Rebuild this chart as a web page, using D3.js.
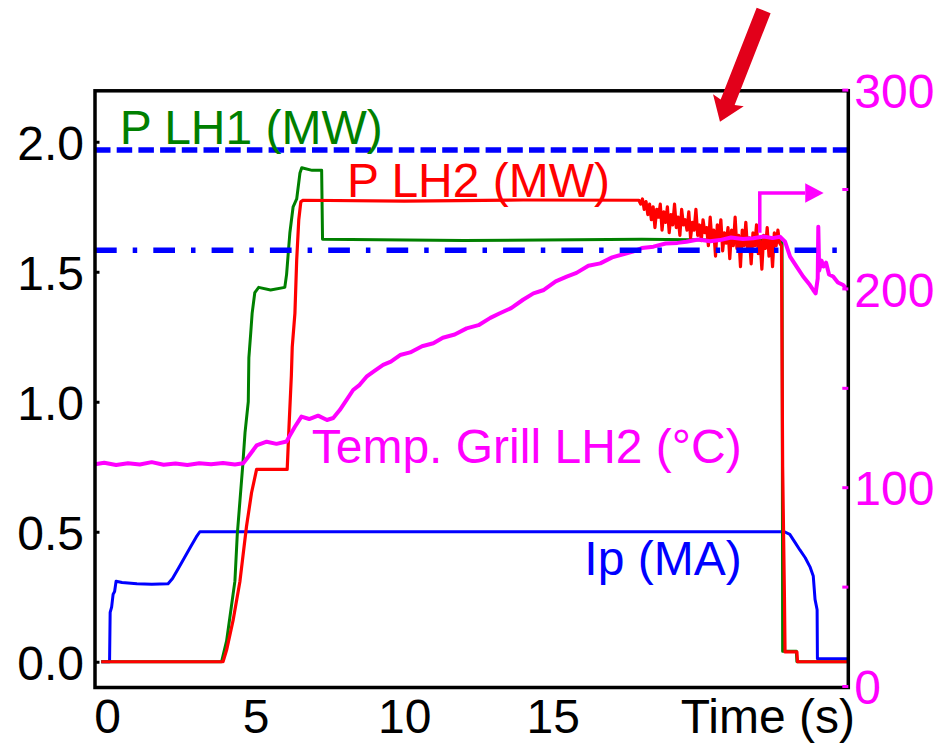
<!DOCTYPE html>
<html>
<head>
<meta charset="utf-8">
<script src="https://cdn.jsdelivr.net/npm/d3@7"></script>
<style>
  body { margin: 0; background: #fff; }
  svg { display: block; font-family: "Liberation Sans", Arial, sans-serif; }
</style>
</head>
<body>
<div id="chart"></div>
<script>

// ---- data (time in s) ----
var ipPoints = [[-0.2,0],[0.08,0],[0.1,0.19],[0.15,0.21],[0.2,0.26],[0.25,0.27],[0.3,0.31],[0.5,0.305],
  [1.0,0.30],[1.5,0.298],[2.05,0.30],[2.2,0.32],[2.4,0.36],[2.6,0.40],[2.8,0.44],[3.0,0.48],[3.12,0.5],
  [8,0.5],[14,0.5],[20,0.5],[22.8,0.5],[22.98,0.49],[23.15,0.46],[23.32,0.43],[23.5,0.40],[23.66,0.365],
  [23.77,0.33],[23.83,0.24],[23.9,0.2],[23.91,0.012],[24.95,0.012]];

var lh1Points = [[-0.2,0],[3.85,0],[4.02,0.08],[4.3,0.31],[4.38,0.49],[4.47,0.62],[4.56,0.75],[4.64,0.88],
  [4.75,1.0],[4.77,1.17],[4.83,1.26],[4.88,1.34],[4.97,1.42],[5.1,1.44],[5.5,1.43],[5.98,1.44],[6.04,1.49],
  [6.15,1.65],[6.26,1.75],[6.38,1.78],[6.49,1.88],[6.55,1.90],[6.9,1.89],[7.22,1.89],[7.25,1.625],
  [12,1.62],[18,1.625],[22.72,1.62],[22.74,0.04],[23.2,0.04],[23.22,0],[24.95,0]];

var lh2Points = [[-0.2,0],[3.9,0],[4.02,0.045],[4.24,0.16],[4.47,0.31],[4.69,0.52],[4.86,0.65],[5.03,0.74],
  [5.5,0.74],[6.06,0.74],[6.12,0.9],[6.2,1.1],[6.23,1.21],[6.32,1.34],[6.38,1.545],[6.45,1.70],[6.52,1.77],
  [6.6,1.775],[10,1.772],[14,1.776],[17.9,1.775],
  [17.96,1.76],[18.02,1.78],[18.08,1.74],[18.14,1.77],[18.20,1.72],[18.26,1.76],[18.32,1.70],[18.38,1.75],
  [18.44,1.67],[18.50,1.74],[18.56,1.71],[18.62,1.76],[18.68,1.66],[18.74,1.73],[18.80,1.69],[18.86,1.75],
  [18.92,1.65],[18.98,1.72],[19.04,1.68],[19.10,1.76],[19.16,1.67],[19.22,1.71],[19.28,1.64],[19.34,1.74],
  [19.40,1.68],[19.46,1.70],[19.52,1.66],[19.58,1.73],[19.64,1.63],[19.70,1.69],[19.76,1.66],[19.82,1.74],
  [19.88,1.64],[19.94,1.68],[20.00,1.62],[20.06,1.70],[20.12,1.65],[20.18,1.67],[20.24,1.60],[20.30,1.71],
  [20.36,1.62],[20.42,1.66],[20.48,1.56],[20.54,1.68],[20.60,1.63],[20.66,1.70],[20.72,1.58],[20.78,1.65],
  [20.84,1.61],[20.90,1.67],[20.96,1.55],[21.02,1.66],[21.08,1.60],[21.14,1.71],[21.20,1.59],[21.26,1.64],
  [21.32,1.52],[21.38,1.66],[21.44,1.60],[21.50,1.69],[21.56,1.58],[21.62,1.63],[21.68,1.53],[21.74,1.65],
  [21.80,1.60],[21.86,1.68],[21.92,1.57],[21.98,1.62],[22.04,1.51],[22.10,1.64],[22.16,1.59],[22.22,1.67],
  [22.28,1.56],[22.34,1.63],[22.40,1.52],[22.46,1.65],[22.52,1.60],[22.58,1.66],[22.64,1.61],[22.70,1.60],
  [22.74,0.75],[22.80,0.25],[22.82,0.038],[23.22,0.038],[23.24,0],[24.95,0]];

var tempPoints = [[-0.41,111.6],[-0.1,112.3],[0.3,111.2],[0.7,112.0],[1.1,111.4],[1.5,112.6],[1.9,111.3],
  [2.3,111.9],[2.7,111.2],[3.1,112.1],[3.5,111.5],[3.9,112.2],[4.3,111.4],[4.58,112.0],[4.75,115.3],
  [5.03,121],[5.37,122.9],[5.7,121.8],[6.04,123],[6.15,126],[6.32,130.4],[6.54,135.5],[6.8,134.3],
  [7.1,136],[7.4,133.8],[7.61,134.8],[7.83,138.8],[8.06,143.9],[8.28,148.9],[8.5,151.5],[8.73,155.6],
  [9.0,158.5],[9.29,161.5],[9.55,163.2],[9.86,166.5],[10.2,167.8],[10.6,170.9],[10.98,172.4],[11.3,175.2],
  [11.7,176.8],[12.1,179.9],[12.5,181.5],[12.9,185.2],[13.22,187.5],[13.6,190.1],[14.0,194.3],[14.35,197.5],
  [14.7,199.2],[15.1,203.5],[15.47,205.9],[15.8,207.8],[16.2,211.4],[16.6,212.6],[17.0,215.6],[17.4,217.3],
  [17.7,218.5],[18.0,220.3],[18.39,221],[18.8,222.6],[19.2,222.9],[19.5,223.5],[19.9,224.6],[20.3,223.7],
  [20.63,224.3],[21.0,225.6],[21.4,224.8],[21.75,225.2],[22.1,226.1],[22.4,225.3],[22.65,226],[22.82,223.5],
  [22.99,216],[23.21,211],[23.43,206],[23.66,201.7],[23.77,199.2],[23.85,197.5],[23.92,205],[23.94,231],
  [23.97,209],[24.05,214],[24.11,211],[24.2,213],[24.3,207],[24.44,206],[24.6,203],[24.78,201.7],[24.95,199]];

// reference levels (MW) and annotations
var dashedLevel = 1.968;
var dashDotLevel = 1.583;
var tempArrowPath = [[21.97,228],[21.97,248],[23.5,248]];
var tempArrowTip = [24.12, 248];
var redArrow = { tail: [22.1, 2.505], tip: [20.63, 2.077] };

var leftTicks = [0, 0.5, 1.0, 1.5, 2.0];
var rightTicks = [0, 50, 100, 150, 200, 250, 300];
var rightLabels = [0, 100, 200, 300];
var timeTicks = [0, 5, 10, 15];

var seriesLabels = [
  { text: "P LH1 (MW)", color: "#008000", t: 0.42, v: 1.99, anchor: "start" },
  { text: "P LH2 (MW)", color: "#ff0000", t: 8.07, v: 1.787, anchor: "start" },
  { text: "Temp. Grill LH2 (\u00B0C)", color: "#ff00ff", t: 21.36, v: 0.763, anchor: "end" },
  { text: "Ip (MA)", color: "#0000ff", t: 21.36, v: 0.333, anchor: "end" }
];

// ---- layout ----
var W = 937, H = 744;
var plotLeft = 95, plotRight = 848.3, plotTop = 90.8, plotBottom = 687.5;
var fontSize = 48;

var svg = d3.select("#chart").append("svg")
    .attr("width", W)
    .attr("height", H);

var x = d3.scaleLinear().domain([-0.41, 24.95]).range([plotLeft, plotRight]);
var yL = d3.scaleLinear().domain([-0.099, 2.196]).range([plotBottom, plotTop]);
var yR = d3.scaleLinear().domain([-0.75, 299.4]).range([plotBottom, plotTop]);

var lineL = d3.line()
    .x(function(d) { return x(d[0]); })
    .y(function(d) { return yL(d[1]); });
var lineR = d3.line()
    .x(function(d) { return x(d[0]); })
    .y(function(d) { return yR(d[1]); });

// ---- data lines ----
svg.append("path").datum(ipPoints)
    .attr("d", lineL).attr("fill", "none")
    .attr("stroke", "#0000ff").attr("stroke-width", 3).attr("stroke-linejoin", "round");

svg.append("path").datum(lh1Points)
    .attr("d", lineL).attr("fill", "none")
    .attr("stroke", "#008000").attr("stroke-width", 3).attr("stroke-linejoin", "round");

svg.append("path").datum(lh2Points)
    .attr("d", lineL).attr("fill", "none")
    .attr("stroke", "#ff0000").attr("stroke-width", 3.2).attr("stroke-linejoin", "round");

svg.append("path").datum(tempPoints)
    .attr("d", lineR).attr("fill", "none")
    .attr("stroke", "#ff00ff").attr("stroke-width", 4).attr("stroke-linejoin", "round");

// ---- reference lines ----
svg.append("line")
    .attr("x1", x(-0.41)).attr("x2", x(24.95))
    .attr("y1", yL(dashedLevel)).attr("y2", yL(dashedLevel))
    .attr("stroke", "#0000ff").attr("stroke-width", 5.5)
    .attr("stroke-dasharray", "15.5,6.2");

svg.append("line")
    .attr("x1", x(-0.41)).attr("x2", x(24.95))
    .attr("y1", yL(dashDotLevel)).attr("y2", yL(dashDotLevel))
    .attr("stroke", "#0000ff").attr("stroke-width", 5.5)
    .attr("stroke-dasharray", "21.7,16,4.5,16.1");

// ---- temperature axis arrow ----
svg.append("path").datum(tempArrowPath)
    .attr("d", lineR).attr("fill", "none")
    .attr("stroke", "#ff00ff").attr("stroke-width", 3.5);

var hx = x(tempArrowPath[2][0]), hy = yR(tempArrowPath[2][1]);
svg.append("path")
    .attr("d", "M" + hx + "," + (hy - 9.7) + "L" + x(tempArrowTip[0]) + "," + yR(tempArrowTip[1]) +
               "L" + hx + "," + (hy + 9.7) + "Z")
    .attr("fill", "#ff00ff");

// ---- frame ----
svg.append("rect")
    .attr("x", plotLeft).attr("y", plotTop)
    .attr("width", plotRight - plotLeft).attr("height", plotBottom - plotTop)
    .attr("fill", "none").attr("stroke", "#000").attr("stroke-width", 3.5);

// ---- axes ----
var gL = svg.append("g")
    .attr("transform", "translate(" + plotLeft + ",0)")
    .call(d3.axisLeft(yL).tickValues(leftTicks).tickSize(-4.5).tickPadding(11)
      .tickFormat(d3.format(".1f")));
gL.select(".domain").remove();
gL.selectAll(".tick line").attr("stroke", "#000").attr("stroke-width", 3);
gL.selectAll(".tick text").attr("dy", "0.37em");

var gR = svg.append("g")
    .attr("transform", "translate(" + plotRight + ",0)")
    .call(d3.axisRight(yR).tickValues(rightTicks).tickSize(-6).tickPadding(6)
      .tickFormat(function(d) { return rightLabels.indexOf(d) >= 0 ? d : ""; }));
gR.select(".domain").remove();
gR.selectAll(".tick line").attr("stroke", "#ff00ff").attr("stroke-width", 3);
gR.selectAll(".tick text").attr("fill", "#ff00ff").attr("dy", "0.37em");

var gB = svg.append("g")
    .attr("transform", "translate(0," + plotBottom + ")")
    .call(d3.axisBottom(x).tickValues(timeTicks).tickSize(0).tickPadding(11));
gB.select(".domain").remove();

svg.selectAll(".tick text")
    .attr("font-size", fontSize)
    .attr("font-family", "'Liberation Sans', Arial, sans-serif");
gL.selectAll(".tick text").attr("fill", "#000");
gB.selectAll(".tick text").attr("fill", "#000");

svg.append("text")
    .attr("x", 855).attr("y", 733.3)
    .attr("text-anchor", "end")
    .attr("font-size", fontSize)
    .attr("fill", "#000")
    .text("Time (s)");

// ---- series labels ----
svg.selectAll(".series-label")
    .data(seriesLabels)
  .enter().append("text")
    .attr("class", "series-label")
    .attr("x", function(d) { return x(d.t); })
    .attr("y", function(d) { return yL(d.v); })
    .attr("text-anchor", function(d) { return d.anchor; })
    .attr("font-size", fontSize)
    .attr("fill", function(d) { return d.color; })
    .text(function(d) { return d.text; });

// ---- red arrow pointing at the LH2 power drop ----
var ax0 = x(redArrow.tail[0]), ay0 = yL(redArrow.tail[1]);
var ax1 = x(redArrow.tip[0]), ay1 = yL(redArrow.tip[1]);
var len = Math.sqrt((ax1 - ax0) * (ax1 - ax0) + (ay1 - ay0) * (ay1 - ay0));
var ux = (ax1 - ax0) / len, uy = (ay1 - ay0) / len;
var nx = -uy, ny = ux;
var shaftHalf = 7.5, headHalf = 16.5, headLen = 21;
var neckX = ax1 - ux * headLen, neckY = ay1 - uy * headLen;
var arrowPts = [
  [ax0 + nx * shaftHalf, ay0 + ny * shaftHalf],
  [neckX + nx * shaftHalf, neckY + ny * shaftHalf],
  [neckX + nx * headHalf - ux * 2, neckY + ny * headHalf - uy * 2],
  [ax1, ay1],
  [neckX - nx * headHalf - ux * 2, neckY - ny * headHalf - uy * 2],
  [neckX - nx * shaftHalf, neckY - ny * shaftHalf],
  [ax0 - nx * shaftHalf, ay0 - ny * shaftHalf]
];
svg.append("polygon")
    .attr("points", arrowPts.map(function(p) { return p.join(","); }).join(" "))
    .attr("fill", "#e2001a");

</script>
</body>
</html>
